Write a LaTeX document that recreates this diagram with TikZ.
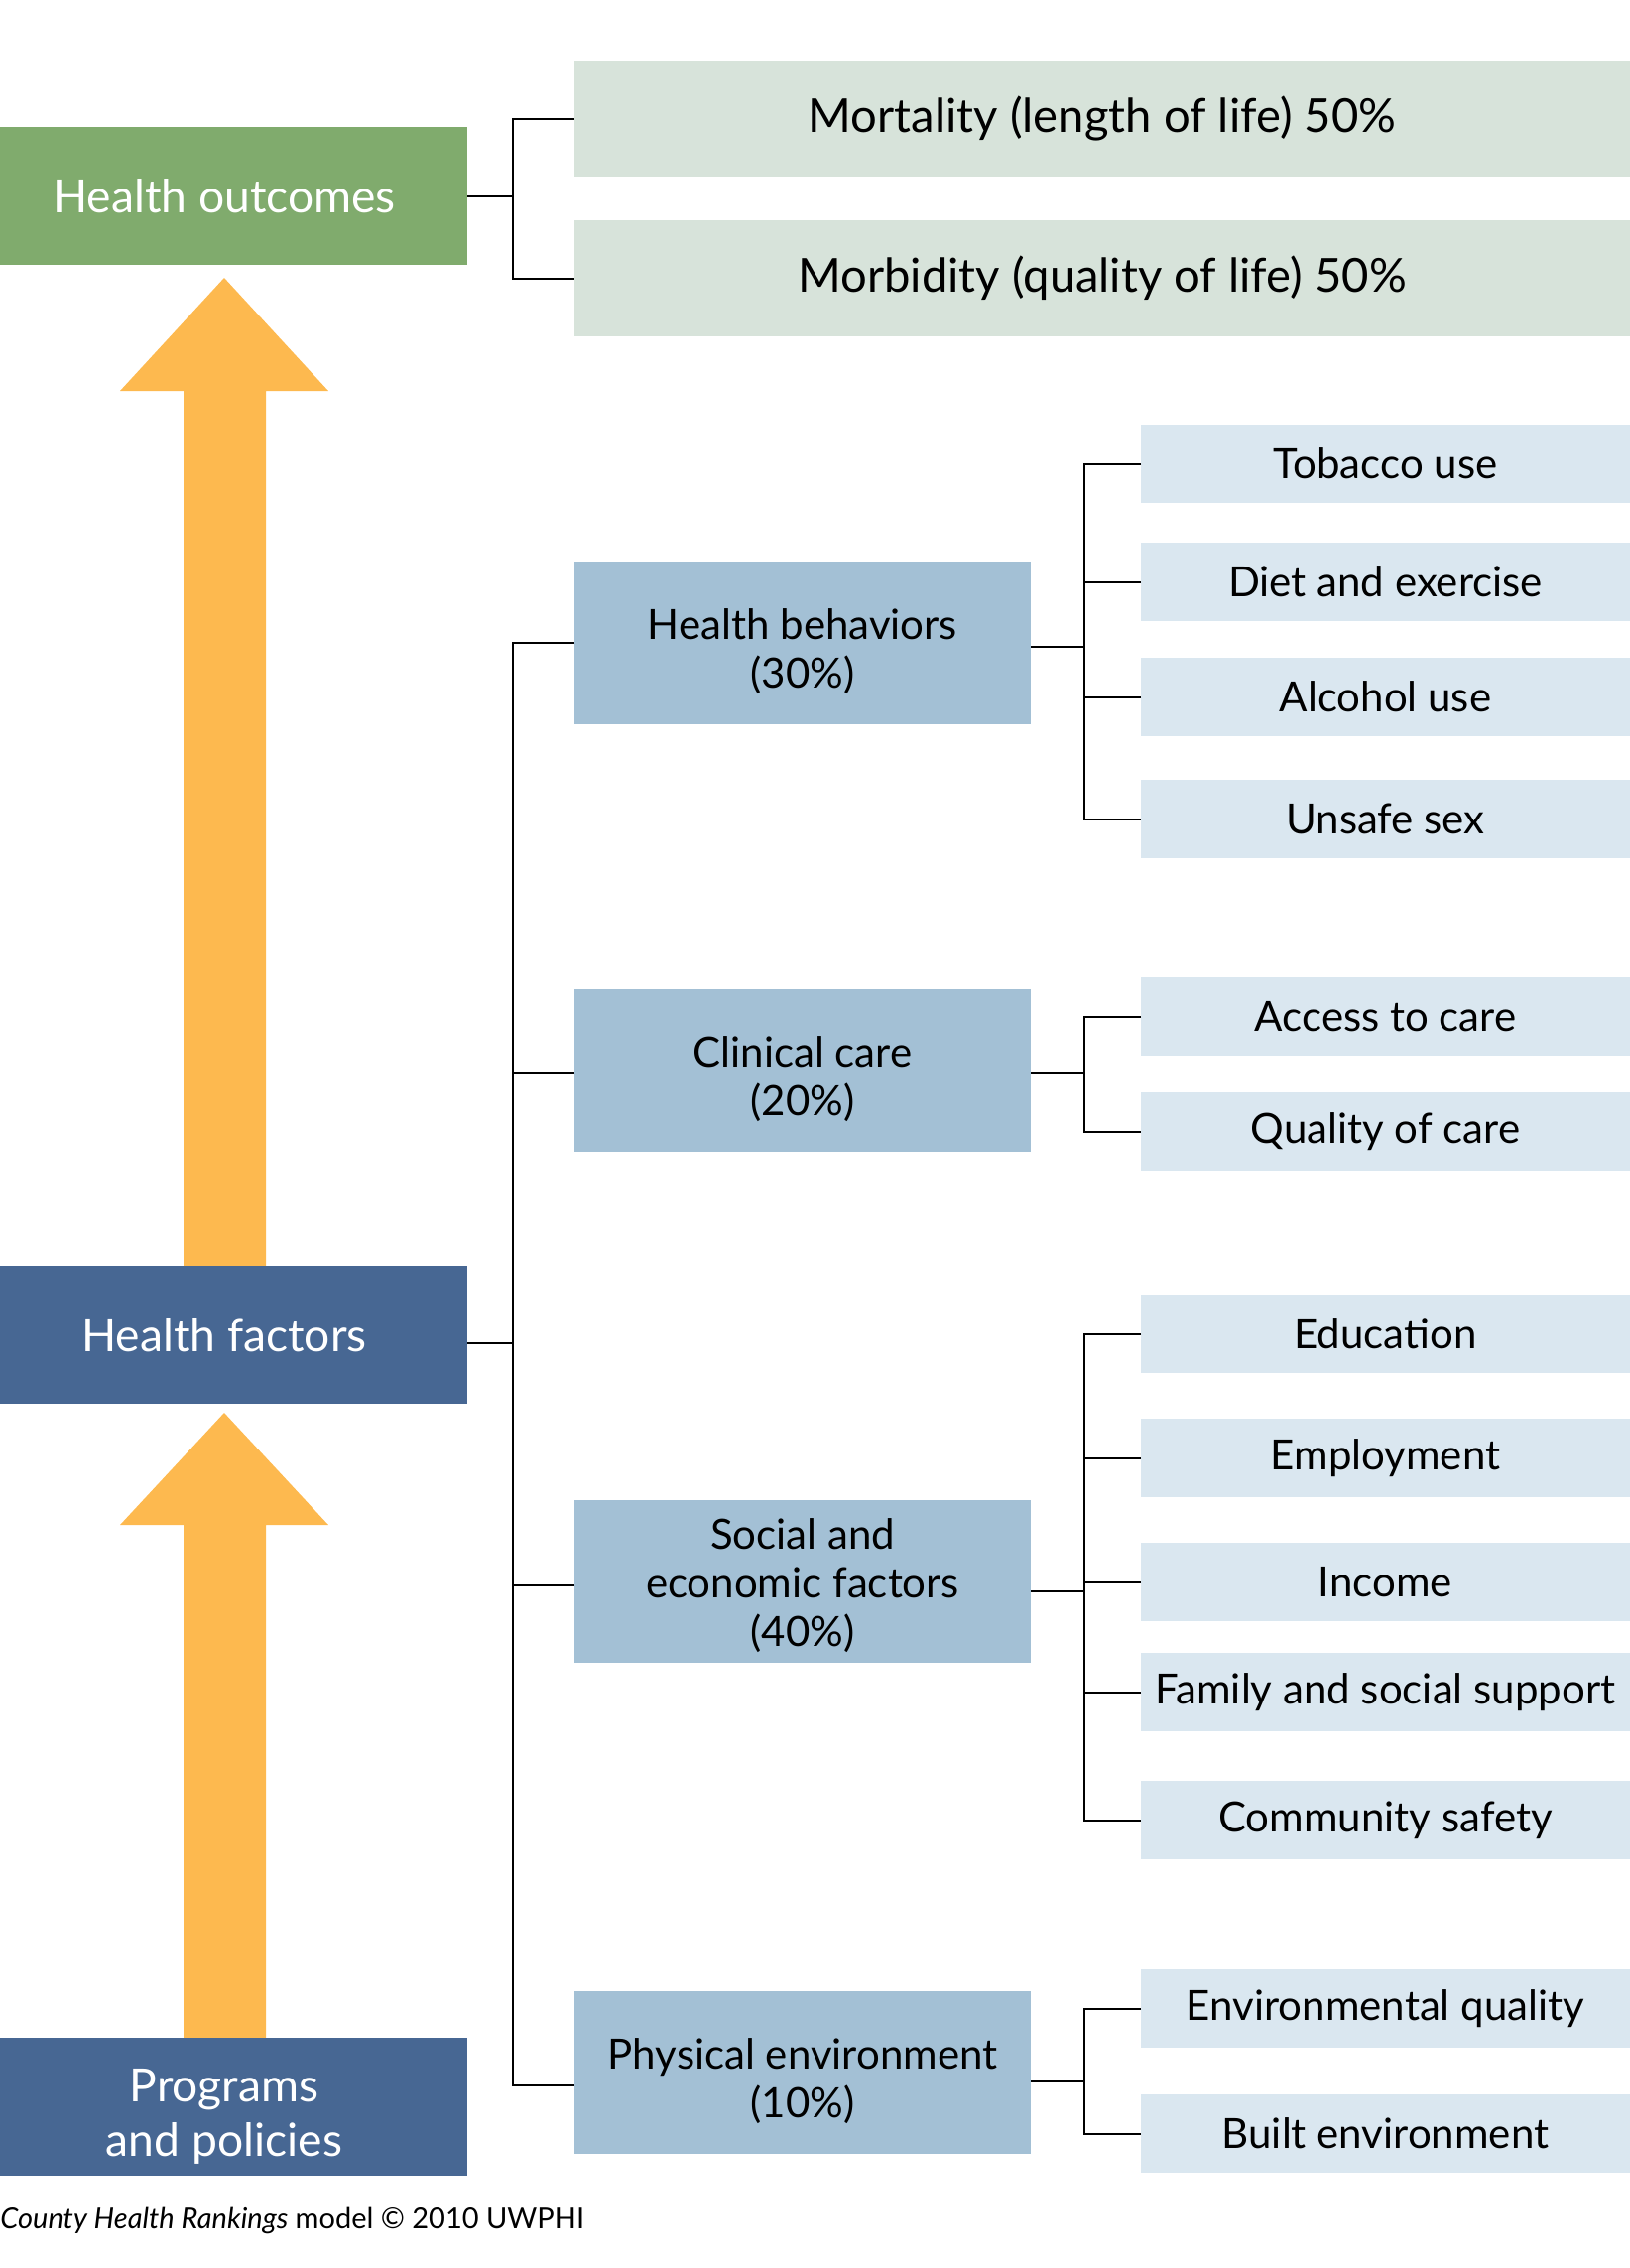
\documentclass[tikz,border=0pt]{standalone}
\usepackage{fontspec}
\setmainfont{Lato}
\definecolor{cgreen}{HTML}{80AB6D}
\definecolor{cgreenl}{HTML}{D7E3DA}
\definecolor{cdark}{HTML}{476793}
\definecolor{cmid}{HTML}{A3C0D5}
\definecolor{clight}{HTML}{DAE7F0}
\definecolor{corange}{HTML}{FDB94F}
\begin{document}
\begin{tikzpicture}[x=0.5pt,y=-0.5pt,
  rbox/.style 2 args={rectangle, inner sep=0pt, outer sep=0pt, anchor=north west,
    minimum width=#1*0.5pt, minimum height=#2*0.5pt, align=center},
  leftbox/.style={rbox={471}{139}, fill=cdark},
  lefttext/.style={text=white, align=center, inner sep=0pt, xshift=-4.75pt, font=\fontsize{23.1}{27.5}\selectfont},
  topbox/.style={rbox={1064}{117}, fill=cgreenl, text=black, font=\fontsize{23.6}{28}\selectfont},
  midbox/.style={rbox={460}{164}, fill=cmid},
  midtext/.style={text=black, align=center, inner sep=0pt, yshift=-4.4pt, font=\fontsize{21}{24.5}\selectfont},
  childbox/.style={rbox={493}{79}, fill=clight, text=black, font=\fontsize{21}{24}\selectfont},
  conn/.style={draw=black, line width=1pt},
  bigarrow/.style={fill=corange, draw=none}]
\useasboundingbox (0,0) rectangle (1643,2286);
% orange arrows
\fill[bigarrow] (185,1280)--(185,394)--(121,394)--(226,280)--(331,394)--(268,394)--(268,1280)--cycle;
\fill[bigarrow] (185,2058)--(185,1537)--(121,1537)--(226,1424)--(331,1537)--(268,1537)--(268,2058)--cycle;
% left boxes
\node[leftbox, fill=cgreen, label={[lefttext]center:Health outcomes}] (out) at (0,128) {};
\node[leftbox, label={[lefttext]center:Health factors}] (hf) at (0,1276) {};
\node[leftbox, label={[lefttext, yshift=-5pt]center:Programs\\and policies}] (pp) at (0,2054) {};
% top boxes
\node[topbox] (mort) at (579,61) {Mortality (length of life) 50\%};
\node[topbox] (morb) at (579,222) {Morbidity (quality of life) 50\%};
% mid boxes
\node[midbox, label={[midtext]center:Health behaviors\\(30\%)}] (hb) at (579,566) {};
\node[midbox, label={[midtext]center:Clinical care\\(20\%)}] (cc) at (579,997) {};
\node[midbox, label={[midtext, yshift=2.6pt]center:Social and\\economic factors\\(40\%)}] (soc) at (579,1512) {};
\node[midbox, label={[midtext]center:Physical environment\\(10\%)}] (pe) at (579,2007) {};
% child boxes
\node[childbox] (tob) at (1150,428) {Tobacco use};
\node[childbox] (diet) at (1150,547) {Diet and exercise};
\node[childbox] (alc) at (1150,663) {Alcohol use};
\node[childbox] (uns) at (1150,786) {Unsafe sex};
\node[childbox] (acc) at (1150,985) {Access to care};
\node[childbox] (qual) at (1150,1101) {Quality of care};
\node[childbox] (edu) at (1150,1305) {Education};
\node[childbox] (emp) at (1150,1430) {Employment};
\node[childbox] (inc) at (1150,1555) {Income};
\node[childbox] (fam) at (1150,1666) {Family and social support};
\node[childbox] (com) at (1150,1795) {Community safety};
\node[childbox] (envq) at (1150,1985) {Environmental quality};
\node[childbox] (built) at (1150,2111) {Built environment};
% footer
\node[anchor=base west, inner sep=0pt, font=\fontsize{14.5}{17}\selectfont] (foot) at (0,2246) {\textit{County Health Rankings} model © 2010 UWPHI};
% connector coordinates
\coordinate (tx) at (517,0);
\coordinate (bx) at (1093,0);
\coordinate (hfe) at ([yshift=-4pt]hf.east);
\coordinate (hbe) at ([yshift=-2pt]hb.east);
\coordinate (ccw) at ([yshift=-1.5pt]cc.west);
\coordinate (cce) at ([yshift=-1.5pt]cc.east);
\coordinate (socw) at ([yshift=-2pt]soc.west);
\coordinate (soce) at ([yshift=-5pt]soc.east);
\coordinate (pew) at ([yshift=-6.5pt]pe.west);
\coordinate (pee) at ([yshift=-4.5pt]pe.east);
% outcomes
\draw[conn] (out.east) -- (out.east -| tx);
\draw[conn] (mort.west) -| (tx |- morb.west) -- (morb.west);
% trunk
\draw[conn] (hb.west) -| (tx |- pew) -- (pew);
\draw[conn] (hfe) -- (hfe -| tx);
\draw[conn] (ccw) -- (ccw -| tx);
\draw[conn] (socw) -- (socw -| tx);
% health behaviors
\draw[conn] (tob.west) -| (bx |- uns.west) -- (uns.west);
\draw[conn] (diet.west) -- (diet.west -| bx);
\draw[conn] (alc.west) -- (alc.west -| bx);
\draw[conn] (hbe) -- (hbe -| bx);
% clinical care
\draw[conn] (acc.west) -| (bx |- qual.west) -- (qual.west);
\draw[conn] (cce) -- (cce -| bx);
% social
\draw[conn] (edu.west) -| (bx |- com.west) -- (com.west);
\draw[conn] (emp.west) -- (emp.west -| bx);
\draw[conn] (inc.west) -- (inc.west -| bx);
\draw[conn] (fam.west) -- (fam.west -| bx);
\draw[conn] (soce) -- (soce -| bx);
% physical
\draw[conn] (envq.west) -| (bx |- built.west) -- (built.west);
\draw[conn] (pee) -- (pee -| bx);
\end{tikzpicture}
\end{document}
